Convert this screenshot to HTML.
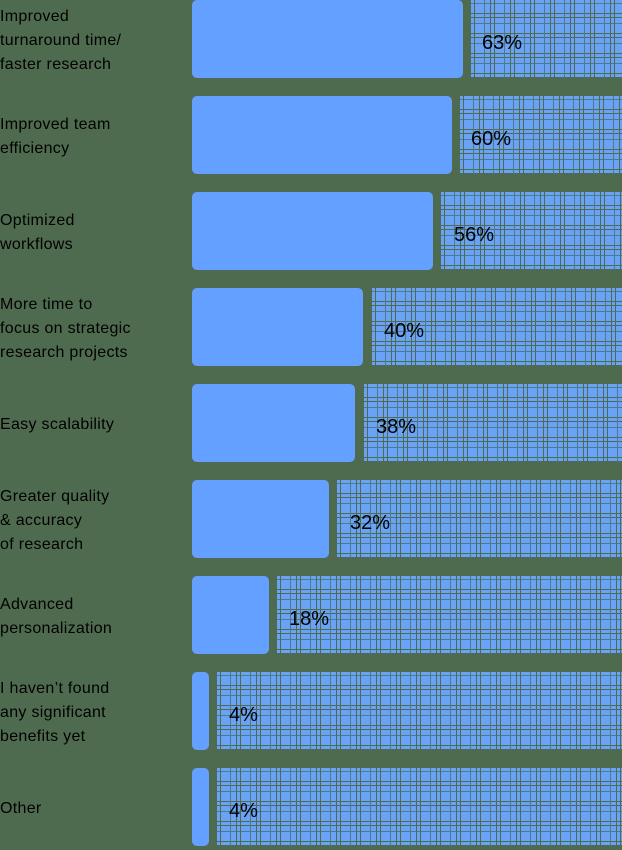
<!DOCTYPE html>
<html><head><style>
body{margin:0;width:622px;height:848px;background:#4f6b4f;position:relative;overflow:hidden;font-family:"Liberation Sans",sans-serif;color:#000;}
.row{position:absolute;left:0;width:622px;height:78px;}
.lab{position:absolute;left:0;top:2px;height:78px;width:185px;display:flex;align-items:center;font-size:16px;line-height:24px;letter-spacing:0.3px;}
.bar{position:absolute;left:192px;top:0;height:78px;background:#64a0ff;border-radius:5px;}
.hat{position:absolute;top:0;height:78px;right:0;background-color:#6aa2f5;
background-image:
repeating-linear-gradient(90deg,#4f6b4f 0 1px,transparent 1px 4px,#4f6b4f 4px 5px,transparent 5px 14px,#4f7a8a 14px 15px,transparent 15px 20px),
repeating-linear-gradient(0deg,#4f6b4f 0 1px,transparent 1px 4px,#4f6b4f 4px 5px,transparent 5px 14px,#4f7a8a 14px 15px,transparent 15px 20px);}
.pct{position:absolute;top:4px;height:78px;line-height:78px;font-size:20px;}
</style></head><body>
<div class="row" style="top:0"><div class="lab">Improved<br>turnaround time/<br>faster research</div><div class="bar" style="width:271px"></div><div class="hat" style="left:470px"></div><div class="pct" style="left:482px">63%</div></div>
<div class="row" style="top:96px"><div class="lab">Improved team<br>efficiency</div><div class="bar" style="width:260px"></div><div class="hat" style="left:459px"></div><div class="pct" style="left:471px">60%</div></div>
<div class="row" style="top:192px"><div class="lab">Optimized<br>workflows</div><div class="bar" style="width:241px"></div><div class="hat" style="left:440px"></div><div class="pct" style="left:454px">56%</div></div>
<div class="row" style="top:288px"><div class="lab">More time to<br>focus on strategic<br>research projects</div><div class="bar" style="width:171px"></div><div class="hat" style="left:371px"></div><div class="pct" style="left:384px">40%</div></div>
<div class="row" style="top:384px"><div class="lab">Easy scalability</div><div class="bar" style="width:163px"></div><div class="hat" style="left:363px"></div><div class="pct" style="left:376px">38%</div></div>
<div class="row" style="top:480px"><div class="lab">Greater quality<br>&amp; accuracy<br>of research</div><div class="bar" style="width:137px"></div><div class="hat" style="left:336px"></div><div class="pct" style="left:350px">32%</div></div>
<div class="row" style="top:576px"><div class="lab">Advanced<br>personalization</div><div class="bar" style="width:77px"></div><div class="hat" style="left:276px"></div><div class="pct" style="left:289px">18%</div></div>
<div class="row" style="top:672px"><div class="lab">I haven’t found<br>any significant<br>benefits yet</div><div class="bar" style="width:17px"></div><div class="hat" style="left:216px"></div><div class="pct" style="left:229px">4%</div></div>
<div class="row" style="top:768px"><div class="lab">Other</div><div class="bar" style="width:17px"></div><div class="hat" style="left:216px"></div><div class="pct" style="left:229px">4%</div></div>
</body></html>
